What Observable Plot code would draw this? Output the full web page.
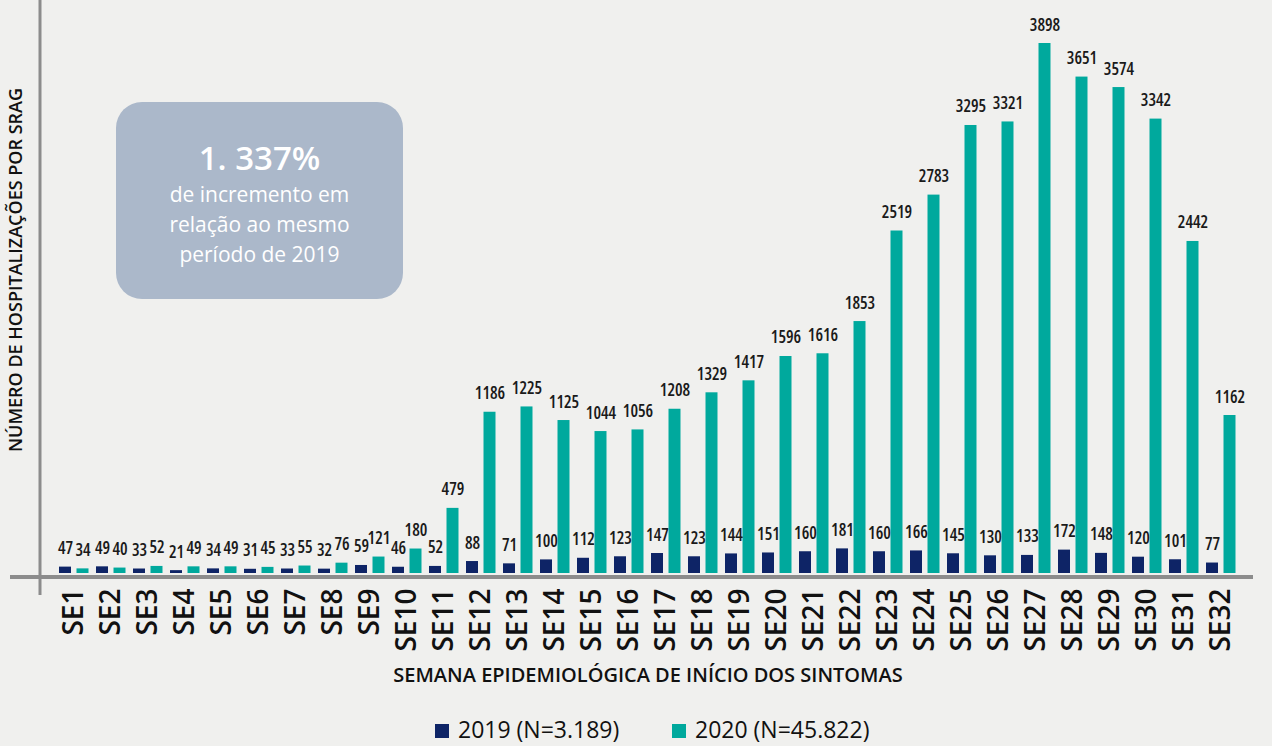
<!DOCTYPE html>
<html><head><meta charset="utf-8">
<script src="https://cdn.jsdelivr.net/npm/d3@7"></script>
<script src="https://cdn.jsdelivr.net/npm/@observablehq/plot@0.6"></script>
<style>
html,body{margin:0;padding:0;background:#f0f0ee;overflow:hidden;}
#wrap{position:relative;width:1272px;height:746px;}
#box{position:absolute;left:116px;top:102px;width:287px;height:197px;border-radius:26px;background:#abb8ca;color:#fff;text-align:center;font-family:"Open Sans",sans-serif;}
#box .big{font-size:33px;font-weight:600;margin-top:35px;line-height:42px;}
#box .small{font-size:21px;font-weight:500;line-height:30px;font-stretch:90%;}
#legend{position:absolute;top:713px;left:0;width:1272px;font-family:"Open Sans",sans-serif;font-size:23px;color:#111;}
#legend span.sw{position:absolute;top:11px;width:14px;height:14px;}
#legend span.tx{position:absolute;top:0px;}
svg g[aria-label="text"] text{font-stretch:85%;}
svg g[aria-label="x-axis tick label"] text{font-weight:600;}
</style></head>
<body><div id="wrap"><div id="chart"></div>
<div id="box"><div class="big">1. 337%</div><div class="small">de incremento em<br>relação ao mesmo<br>período de 2019</div></div>
<div id="legend"></div>
</div>
<script>
const weeks = Array.from({length:32},(_,i)=>"SE"+(i+1));
const v2019 = [47,49,33,21,34,31,33,32,59,46,52,88,71,100,112,123,147,123,144,151,160,181,160,166,145,130,133,172,148,120,101,77];
const v2020 = [34,40,52,49,49,45,55,76,121,180,479,1186,1225,1125,1044,1056,1208,1329,1417,1596,1616,1853,2519,2783,3295,3321,3898,3651,3574,3342,2442,1162];
const seriesNames = ["2019 (N=3.189)","2020 (N=45.822)"];
const colors = ["#0e2466","#00a99d"];

const d19 = weeks.map((w,i)=>({week:w,value:v2019[i]}));
const d20 = weeks.map((w,i)=>({week:w,value:v2020[i]}));

const labelFont = {fontSize:17, fontWeight:600, fill:"#1a1a1a", fontFamily:"Open Sans, sans-serif", lineAnchor:"bottom"};

const plot = Plot.plot({
  width:1272, height:746,
  marginLeft:41, marginRight:20, marginTop:43, marginBottom:173,
  style:{background:"transparent", fontFamily:"Open Sans, sans-serif"},
  x:{domain:weeks, padding:0, label:null, axis:null},
  y:{domain:[0,3898], axis:null},
  marks:[
    Plot.barY(d19,{x:"week", y:"value", fill:colors[0], insetLeft:4, insetRight:21}),
    Plot.barY(d20,{x:"week", y:"value", fill:colors[1], insetLeft:21.5, insetRight:3.5}),
    Plot.text(d19,{x:"week", y:"value", text:d=>String(d.value), dx:-8.5, dy:-13, ...labelFont}),
    Plot.text(d20,{x:"week", y:"value", text:d=>String(d.value), dx:9, dy:-13, ...labelFont}),
    Plot.axisX({tickRotate:-90, tickSize:0, tickPadding:15, fontSize:28, fill:"#111", label:null})
  ]
});
document.getElementById("chart").appendChild(plot);

const svg = d3.select(plot);
const y = plot.scale("y");
const y0 = y.apply(0);
// axis lines
svg.append("line").attr("x1",10).attr("x2",1253).attr("y1",y0+4).attr("y2",y0+4).attr("stroke","#8c8c8c").attr("stroke-width",4);
svg.append("line").attr("x1",40).attr("x2",40).attr("y1",0).attr("y2",y0+22).attr("stroke","#8c8c8c").attr("stroke-width",3);
// axis titles
svg.append("text").attr("transform","translate(22,270) rotate(-90)").attr("text-anchor","middle")
  .attr("font-size",18).attr("font-weight",600).attr("fill","#111").attr("font-family","Open Sans, sans-serif")
  .text("NÚMERO DE HOSPITALIZAÇÕES POR SRAG");
svg.append("text").attr("x",648).attr("y",682).attr("text-anchor","middle")
  .attr("font-size",20).attr("font-weight",600).attr("fill","#111").attr("font-family","Open Sans, sans-serif")
  .text("SEMANA EPIDEMIOLÓGICA DE INÍCIO DOS SINTOMAS");

// legend
const leg = document.getElementById("legend");
const pos = [[435,458],[672,695]];
seriesNames.forEach((n,i)=>{
  const s=document.createElement("span");s.className="sw";s.style.left=pos[i][0]+"px";s.style.background=colors[i];leg.appendChild(s);
  const t=document.createElement("span");t.className="tx";t.style.left=pos[i][1]+"px";t.textContent=n;leg.appendChild(t);
});
</script>
</body></html>
